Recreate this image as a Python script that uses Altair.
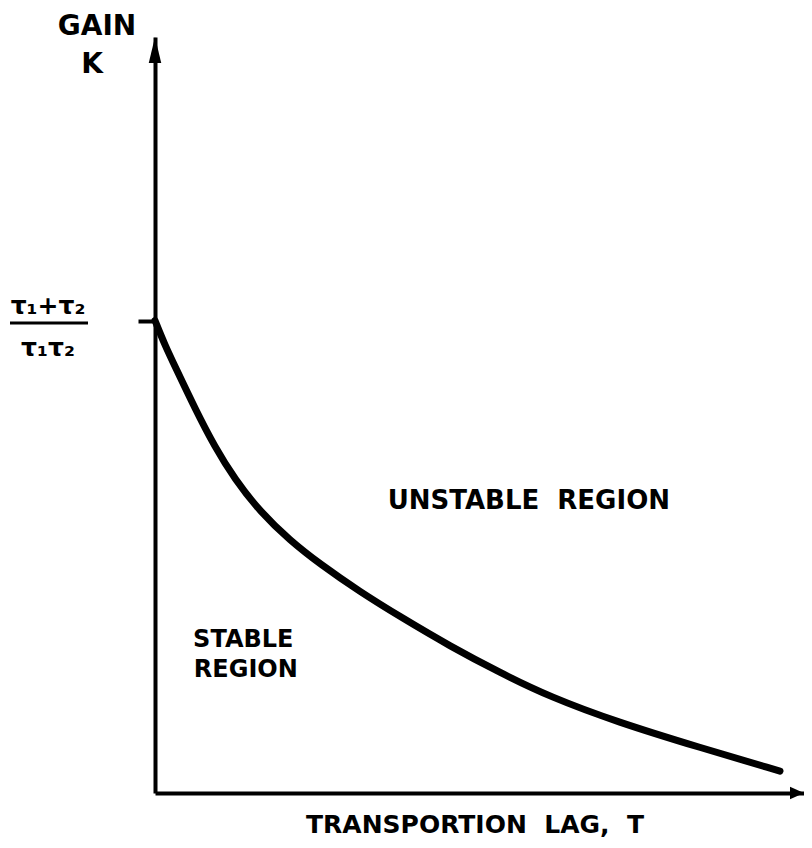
import altair as alt
import pandas as pd

# Stability boundary curve (transportation lag T vs critical gain K)
lag_T = [0.0, 0.15, 0.31, 0.62, 0.92, 1.23, 1.62, 2.08, 2.54, 3.16, 3.78, 4.55, 5.32, 6.09, 7.12, 8.40, 9.63]
gain_K = [6.25, 5.93, 5.64, 5.08, 4.58, 4.15, 3.72, 3.34, 3.03, 2.66, 2.33, 1.94, 1.59, 1.27, 0.94, 0.60, 0.29]

# Region labels placed in data coordinates
label_text = ["UNSTABLE\u00a0\u00a0REGION", "STABLE", "REGION"]
label_T = [5.76, 1.36, 1.40]
label_K = [3.86, 2.03, 1.63]
label_size = [26, 24, 24]

K_TICK = 6.25          # (τ1+τ2)/(τ1τ2)
T_MAX, K_MAX = 10, 10

FONT = "DejaVu Sans"

curve_df = pd.DataFrame({"T": lag_T, "K": gain_K})
labels_df = pd.DataFrame({"text": label_text, "T": label_T, "K": label_K, "size": label_size})

xs = alt.Scale(domain=[0, T_MAX], nice=False, zero=False)
ys = alt.Scale(domain=[0, K_MAX], nice=False, zero=False)

x_axis = alt.Axis(domain=True, domainColor="black", domainWidth=4, ticks=False,
                  labels=False, grid=False, title=None)
y_axis = alt.Axis(domain=True, domainColor="black", domainWidth=4, values=[K_TICK],
                  ticks=True, tickSize=17, tickWidth=4, tickColor="black",
                  labels=False, grid=False, title=None)

curve = alt.Chart(curve_df).mark_line(
    color="black", strokeWidth=7, interpolate="basis", strokeCap="round"
).encode(
    x=alt.X("T:Q", scale=xs, axis=x_axis),
    y=alt.Y("K:Q", scale=ys, axis=y_axis),
)

# arrow heads at the ends of the axes
arrows_df = pd.DataFrame({"T": [0, T_MAX], "K": [K_MAX, 0], "dir": ["up", "right"]})
up_arrow = alt.Chart(arrows_df[arrows_df.dir == "up"]).mark_point(
    shape="M0,0 L0.24,1 L-0.24,1 Z", size=2704, filled=True, color="black", opacity=1
).encode(x=alt.X("T:Q", scale=xs), y=alt.Y("K:Q", scale=ys))
right_arrow = alt.Chart(arrows_df[arrows_df.dir == "right"]).mark_point(
    shape="M0,0 L-1,-0.45 L-1,0.45 Z", size=784, filled=True, color="black", opacity=1
).encode(x=alt.X("T:Q", scale=xs), y=alt.Y("K:Q", scale=ys))

region_labels = alt.Chart(labels_df).mark_text(
    font=FONT, fontWeight="bold", color="black", align="center", baseline="middle"
).encode(
    x=alt.X("T:Q", scale=xs),
    y=alt.Y("K:Q", scale=ys),
    text="text:N",
    size=alt.Size("size:Q", scale=None, legend=None),
)

def txt(s, px, py, size, weight="bold"):
    return alt.Chart(pd.DataFrame({"t": [s]})).mark_text(
        font=FONT, fontWeight=weight, fontSize=size, color="black",
        align="center", baseline="middle"
    ).encode(text="t:N", x=alt.value(px), y=alt.value(py))

gain_title = txt("GAIN", -58, -10, 28)
k_title = txt("K", -63, 28, 28)
numer = txt("τ₁+τ₂", -107, 269, 25)
denom = txt("τ₁τ₂", -107, 311, 25)
frac_line = alt.Chart(pd.DataFrame({"a": [0]})).mark_rule(color="black", strokeWidth=3).encode(
    x=alt.value(-145), x2=alt.value(-67), y=alt.value(286)
)
x_title = txt("TRANSPORTION\u00a0\u00a0LAG,\u00a0\u00a0T", 320, 788, 25)

chart = alt.layer(
    curve, up_arrow, right_arrow, region_labels,
    gain_title, k_title, numer, denom, frac_line, x_title
).properties(
    width=649, height=756,
    padding={"left": 147, "top": 29, "right": 0, "bottom": 47},
    autosize=alt.AutoSizeParams(type="none"),
    background="white",
).configure_view(stroke=None)

chart.save("out.html", embed_options={"renderer": "svg", "actions": False})
